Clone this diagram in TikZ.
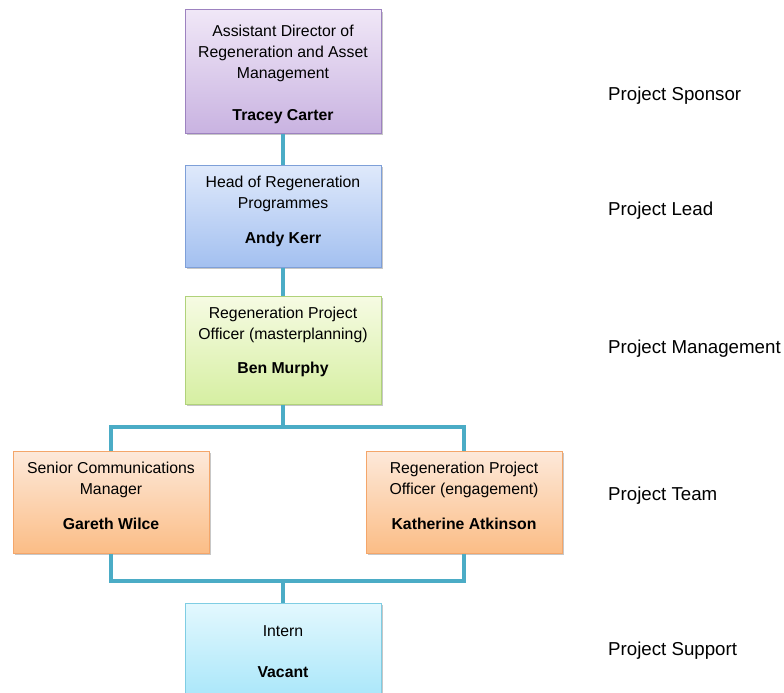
\documentclass[tikz,border=0pt]{standalone}
\usepackage{fontspec}
\setmainfont{Liberation Sans}
\usetikzlibrary{shadows}
\definecolor{conncol}{HTML}{4BACC6}
\definecolor{purtop}{HTML}{F0E7F7}
\definecolor{purbot}{HTML}{C9B3E1}
\definecolor{purbd}{HTML}{9D82C0}
\definecolor{blutop}{HTML}{DFE9FB}
\definecolor{blubot}{HTML}{A3C0F0}
\definecolor{blubd}{HTML}{7E9FD8}
\definecolor{grntop}{HTML}{F6FBE3}
\definecolor{grnbot}{HTML}{D6EFA2}
\definecolor{grnbd}{HTML}{B0D27A}
\definecolor{orgtop}{HTML}{FDE9DA}
\definecolor{orgbot}{HTML}{FBBD86}
\definecolor{orgbd}{HTML}{F4A66A}
\definecolor{aqtop}{HTML}{E3F8FE}
\definecolor{aqbot}{HTML}{A4E5F9}
\definecolor{aqbd}{HTML}{7FCDE3}
\tikzset{
  box/.style={rectangle, inner sep=0pt, minimum width=196pt, line width=1pt,
    drop shadow={shadow xshift=1.5pt, shadow yshift=-2pt, fill=black, opacity=0.22}},
  purbox/.style={box, draw=purbd, top color=purtop, bottom color=purbot},
  blubox/.style={box, draw=blubd, top color=blutop, bottom color=blubot},
  grnbox/.style={box, draw=grnbd, top color=grntop, bottom color=grnbot},
  orgbox/.style={box, draw=orgbd, top color=orgtop, bottom color=orgbot},
  aqbox/.style={box, draw=aqbd, top color=aqtop, bottom color=aqbot},
  role/.style={align=center, inner sep=0pt, font=\fontsize{15.8}{21}\selectfont, text=black},
  who/.style={inner sep=0pt, font=\fontsize{15.8}{21}\selectfont\bfseries},
  lvl/.style={anchor=west, inner sep=0pt, font=\fontsize{18.7}{22}\selectfont},
  conn/.style={draw=conncol, line width=4.5pt}
}
\begin{document}
\begin{tikzpicture}[x=1pt, y=-1pt]
\useasboundingbox (0,0) rectangle (784,693);
\coordinate (j1) at (283,427);
\coordinate (j2) at (283,581);
\node[purbox, minimum height=123pt] (b1) at (283,71.5) {};
\node[blubox, minimum height=102pt] (b2) at (283,216) {};
\node[grnbox, minimum height=108pt] (b3) at (283,350) {};
\node[orgbox, minimum height=102pt] (b4) at (111,502) {};
\node[orgbox, minimum height=102pt] (b5) at (464,502) {};
\node[aqbox, minimum height=104pt] (b6) at (283,655) {};
\draw[conn] (b1.south) -- (b2.north);
\draw[conn] (b2.south) -- (b3.north);
\draw[conn] (b3.south) -- (j1);
\draw[conn] (b4.north) |- (j1) -| (b5.north);
\draw[conn] (b4.south) |- (j2) -| (b5.south);
\draw[conn] (j2) -- (b6.north);
% texts
\node[role] (t1) at (283,53.5) {Assistant Director of\\Regeneration and Asset\\Management};
\node[who] (n1) at (283,116.5) {Tracey Carter};
\node[role] (t2) at (283,194) {Head of Regeneration\\Programmes};
\node[who] (n2) at (283,239.5) {Andy Kerr};
\node[role] (t3) at (283,325) {Regeneration Project\\Officer (masterplanning)};
\node[who] (n3) at (283,369.5) {Ben Murphy};
\node[role] (t4) at (111,479.5) {Senior Communications\\Manager};
\node[who] (n4) at (111,523.5) {Gareth Wilce};
\node[role] (t5) at (464,479.5) {Regeneration Project\\Officer (engagement)};
\node[who] (n5) at (464,523.5) {Katherine Atkinson};
\node[role] (t6) at (283,631.5) {Intern};
\node[who] (n6) at (283,672.5) {Vacant};
% level labels
\node[lvl] (l1) at (608,95.5) {Project Sponsor};
\node[lvl] (l2) at (608,210.5) {Project Lead};
\node[lvl] (l3) at (608,348.5) {Project Management};
\node[lvl] (l4) at (608,495.5) {Project Team};
\node[lvl] (l5) at (608,650.5) {Project Support};
\end{tikzpicture}
\end{document}
